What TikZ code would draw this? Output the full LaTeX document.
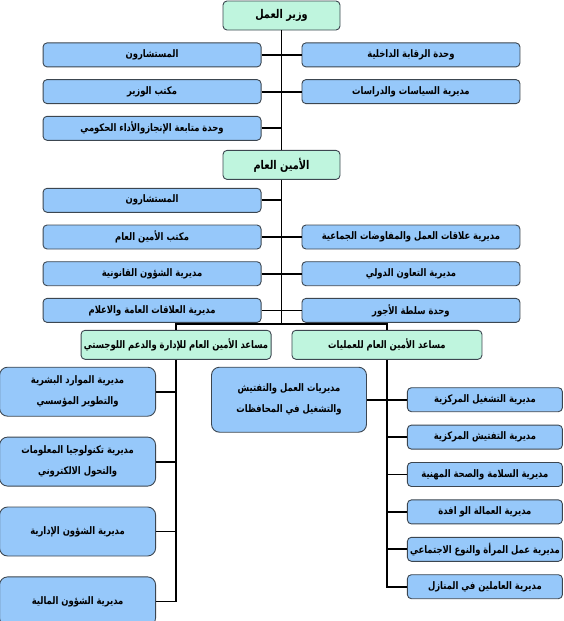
\documentclass[tikz,border=0pt]{standalone}
\usepackage{fontspec}
\usepackage{xcolor}
\usepackage{tikz}
\usetikzlibrary{positioning}
\newfontfamily\arabicfont[Script=Arabic, FakeStretch=0.81]{DejaVu Sans}
\TeXXeTstate=1
\newcommand{\artxt}[1]{\beginR #1\endR}
\definecolor{molBlue}{HTML}{96C8FA}
\definecolor{molMint}{HTML}{BFF5DE}
\definecolor{molEdge}{HTML}{3C4650}
\tikzset{
  link/.style={line width=1.8pt, draw=black},
  box/.style={
    rectangle,
    rounded corners=4pt,
    draw=molEdge,
    line width=0.9pt,
    inner sep=1pt,
    align=center,
    font=\arabicfont\bfseries\fontsize{10.4}{21}\selectfont
  },
  head/.style={
    box,
    fill=molMint,
    minimum width=117pt,
    minimum height=29pt,
    font=\arabicfont\bfseries\fontsize{12}{14}\selectfont
  },
  unit/.style={
    box,
    fill=molBlue,
    minimum width=218pt,
    minimum height=24pt
  },
  assist/.style={
    box,
    fill=molMint,
    minimum width=190pt,
    minimum height=29pt
  },
  dept/.style={
    box,
    rounded corners=8pt,
    fill=molBlue,
    minimum width=156pt,
    minimum height=49pt
  },
  region/.style={
    dept,
    minimum width=155pt,
    minimum height=65pt
  },
  branch/.style={
    box,
    fill=molBlue,
    minimum width=155pt,
    minimum height=24pt
  }
}

\begin{document}
\begin{tikzpicture}[x=1pt, y=-1pt, node distance=11.8pt and 40pt]
\useasboundingbox (0,0) rectangle (563,621);

\node[head] (minister) at (281.5,15.5) {\artxt{وزير العمل}};
\node[unit, below left=12pt and 20pt of minister.south] (adv1) {\artxt{المستشارون}};
\node[unit, below=of adv1] (minoffice) {\artxt{مكتب الوزير}};
\node[unit, below=of minoffice] (perf) {\artxt{وحدة متابعة الإنجازوالأداء الحكومي}};
\node[unit, right=of adv1] (audit) {\artxt{وحدة الرقابة الداخلية}};
\node[unit, right=of minoffice] (policy) {\artxt{مديرية السياسات والدراسات}};

\node[head, below=119.5pt of minister] (secgen) {\artxt{الأمين العام}};
\node[unit, below left=8pt and 20pt of secgen.south] (adv2) {\artxt{المستشارون}};
\node[unit, below=of adv2] (sgoffice) {\artxt{مكتب الأمين العام}};
\node[unit, below=of sgoffice] (legal) {\artxt{مديرية الشؤون القانونية}};
\node[unit, below=of legal] (media) {\artxt{مديرية العلاقات العامة والاعلام}};
\node[unit, right=of sgoffice] (labrel) {\artxt{مديرية علاقات العمل والمفاوضات الجماعية}};
\node[unit, right=of legal] (intl) {\artxt{مديرية التعاون الدولي}};
\node[unit, right=of media] (wages) {\artxt{وحدة سلطة الأجور}};

\coordinate[below=144.5pt of secgen.south] (bus);
\node[assist, below left=5.5pt and 10pt of bus] (asstadmin) {\artxt{مساعد الأمين العام للإدارة والدعم اللوجستي}};
\node[assist, below right=5.5pt and 10pt of bus] (asstops) {\artxt{مساعد الأمين العام للعمليات}};

\node[dept, below left=7pt and 20pt of asstadmin.south] (hr) {\artxt{مديرية الموارد البشرية}\\ \artxt{والتطوير المؤسسي}};
\node[dept, below=20pt of hr] (ict) {\artxt{مديرية تكنولوجيا المعلومات}\\ \artxt{والتحول الالكتروني}};
\node[dept, below=20pt of ict] (admin) {\artxt{مديرية الشؤون الإدارية}};
\node[dept, below=20pt of admin] (finance) {\artxt{مديرية الشؤون المالية}};

\node[region, below left=7pt and 20pt of asstops.south] (govs) {\artxt{مديريات العمل والتفتيش}\\ \artxt{والتشغيل في المحافظات}};
\node[branch, right=40pt of govs] (employ) {\artxt{مديرية التشغيل المركزية}};
\node[branch, below=12.5pt of employ] (inspect) {\artxt{مديرية التفتيش المركزية}};
\node[branch, below=12.5pt of inspect] (safety) {\artxt{مديرية السلامة والصحة المهنية}};
\node[branch, below=12.5pt of safety] (migrant) {\artxt{مديرية العمالة الو افدة}};
\node[branch, below=12.5pt of migrant] (women) {\artxt{مديرية عمل المرأة والنوع الاجتماعي}};
\node[branch, below=12.5pt of women] (domestic) {\artxt{مديرية العاملين في المنازل}};

\draw[link] (minister) -- (secgen);
\draw[link] (secgen) -- (bus);
\foreach \n in {adv1, minoffice, perf, adv2, sgoffice, legal, media}
  \draw[link] (\n.east) -- (\n.east -| bus);
\foreach \n in {audit, policy, labrel, intl, wages}
  \draw[link] (\n.west) -- (\n.west -| bus);
\draw[link] (asstadmin.north) |- (bus) -| (asstops.north);

\draw[link] (asstadmin.south) |- (finance.east);
\foreach \n in {hr, ict, admin}
  \draw[link] (\n.east) -- (\n.east -| asstadmin.south);
\draw[link] (govs.east) -- (govs.east -| asstops.south);
\draw[link] (asstops.south) |- (domestic.west);
\foreach \n in {employ, inspect, safety, migrant, women}
  \draw[link] (\n.west) -- (\n.west -| asstops.south);

\end{tikzpicture}
\end{document}
